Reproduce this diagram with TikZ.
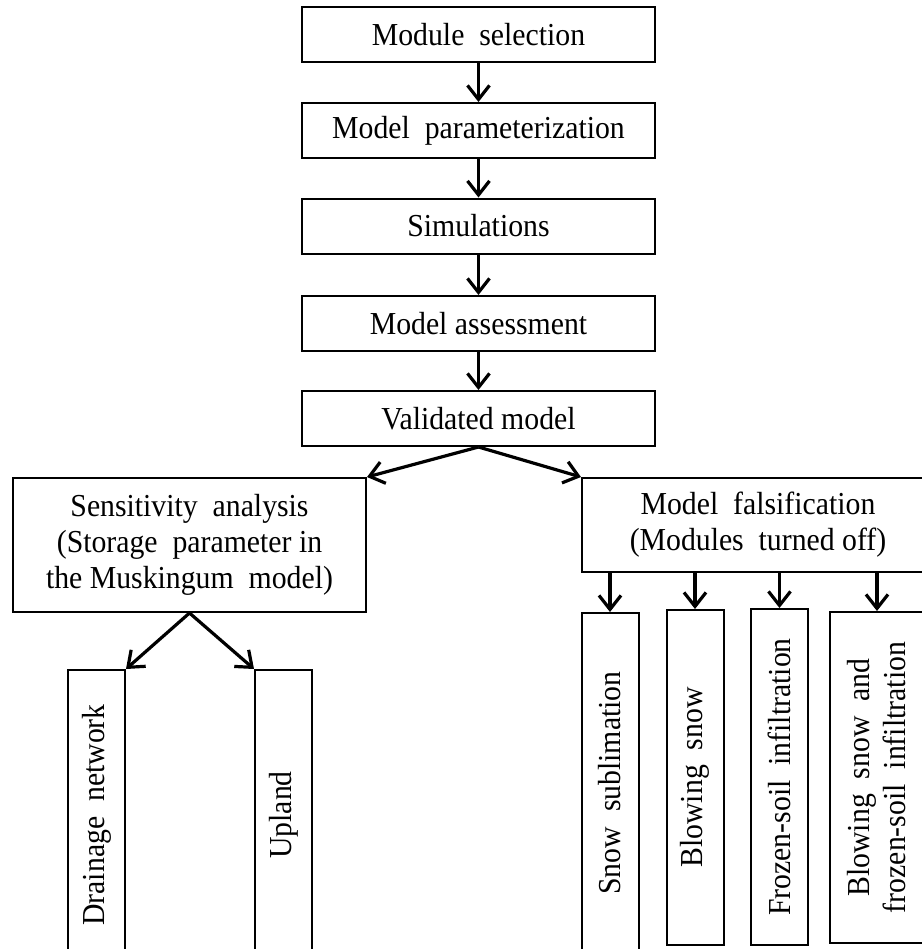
\documentclass[tikz,border=0pt]{standalone}
\usepackage{fontspec}
\setmainfont{Liberation Serif}[FakeStretch=0.93]
\usetikzlibrary{positioning,shapes,arrows.meta}

\tikzset{
  boite/.style={rectangle, draw, line width=1pt, fill=white, align=center,
    inner sep=2pt, minimum width=176.5pt, minimum height=27.5pt,
    font=\fontsize{16}{18}\selectfont},
  colonne/.style={boite, rotate=90, minimum height=28.5pt},
  fleche/.style={line width=1.6pt, -{Straight Barb[length=7pt,width=11pt]}}
}

\begin{document}
\begin{tikzpicture}[x=0.5pt, y=-0.5pt]
        \useasboundingbox (0,0) rectangle (922,949);
        \clip (0,0) rectangle (922,949);

        % Chaine principale
        \node[boite] (select) at (478.5,34.5)  {Module\ \ selection};
        \node[boite] (param)  at (478.5,130.5) {Model\ \ parameterization};
        \node[boite] (simul)  at (478.5,226)   {Simulations};
        \node[boite] (assess) at (478.5,323.5) {Model assessment};
        \node[boite] (valid)  at (478.5,418.5) {Validated model};

        % Deux branches
        \node[boite, minimum height=67pt] (sens) at (189.5,545)
          {Sensitivity\ \ analysis\\(Storage\ \ parameter in\\the Muskingum\ \ model)};
        \node[boite, minimum width=176pt, minimum height=47pt] (fals) at (758,525)
          {Model\ \ falsification\\(Modules\ \ turned off)};

        % Colonnes (texte vertical)
        \node[colonne, minimum width=145pt] (drain)  at (96.5,815)  {Drainage\ \ network};
        \node[colonne, minimum width=145pt] (upland) at (283.5,815) {Upland};
        \node[colonne, minimum width=170pt] (sublim) at (610,783)   {Snow\ \ sublimation};
        \node[colonne, minimum width=167.5pt] (blow) at (695,777.5) {Blowing\ \ snow};
        \node[colonne, minimum width=168pt] (frozen) at (779.5,777) {Frozen-soil\ \ infiltration};
        \node[colonne, minimum width=165.5pt, minimum height=47pt] (both) at (877,777.5)
          {Blowing\ \ snow\ \ and\\frozen-soil\ \ infiltration};

        % Fleches
        \draw[fleche] (select) -- (param);
        \draw[fleche] (param) -- (simul);
        \draw[fleche] (simul) -- (assess);
        \draw[fleche] (assess) -- (valid);
        \draw[fleche] (valid.south) -- (sens.north east);
        \draw[fleche] (valid.south) -- (fals.north west);
        \draw[fleche] (sens.south) -- (drain.south east);
        \draw[fleche] (sens.south) -- (upland.north east);
        \draw[fleche] (sublim.east |- fals.south) -- (sublim.east);
        \draw[fleche] (blow.east |- fals.south) -- (blow.east);
        \draw[fleche] (frozen.east |- fals.south) -- (frozen.east);
        \draw[fleche] (both.east |- fals.south) -- (both.east);
    \end{tikzpicture}
\end{document}
